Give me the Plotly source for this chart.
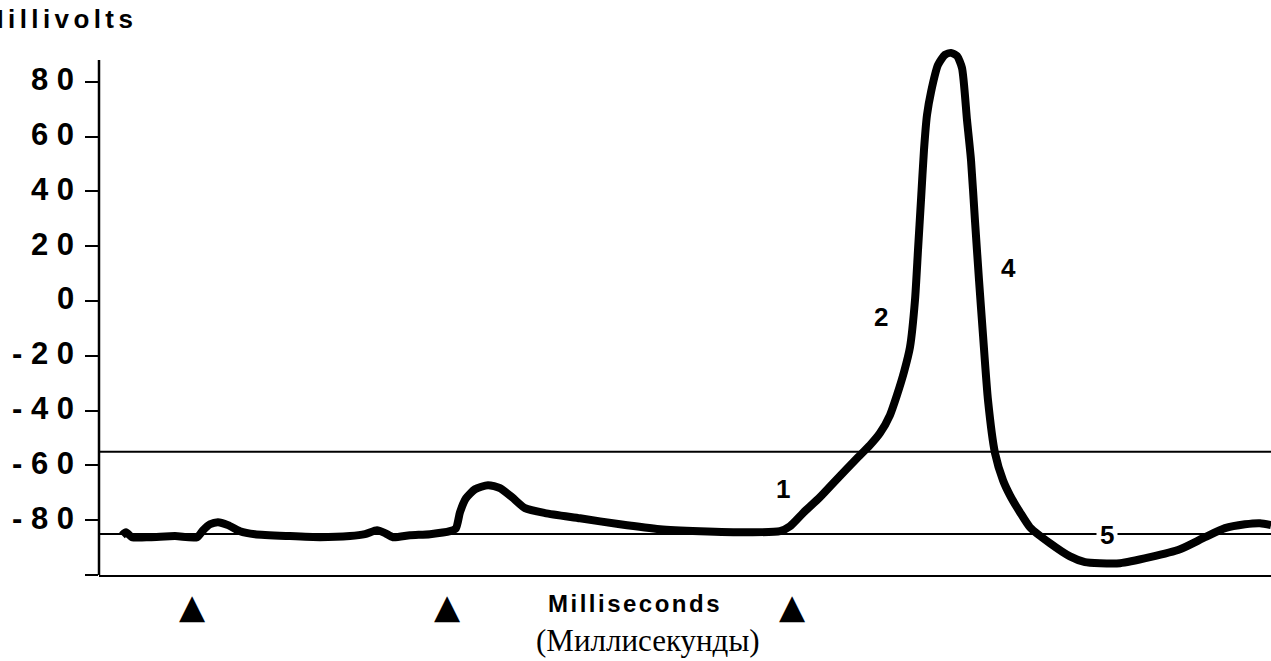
import plotly.graph_objects as go

# ---------------- data ----------------
time_ms = [23, 27, 33, 51, 76, 98, 104, 111, 119, 129, 141, 156, 191, 221, 251, 266,
           278, 286, 294, 311, 331, 351, 357, 361, 367, 376, 389, 401, 413, 426, 446,
           481, 521, 561, 601, 651, 681, 691, 704, 721, 736, 758, 771, 781, 791, 798,
           805, 811, 816, 819, 822, 825, 828, 832, 839, 846, 852, 858, 863, 868, 872,
           876, 880, 884, 889, 896, 904, 911, 921, 931, 951, 971, 986, 1001, 1021,
           1051, 1081, 1106, 1126, 1146, 1161, 1172]
voltage_mv = [-85.5, -84.4, -86.2, -86.2, -85.8, -86.2, -83.7, -81.5, -80.7, -81.8,
              -84.0, -85.1, -85.8, -86.2, -85.8, -85.1, -83.7, -84.7, -86.2, -85.5,
              -85.1, -84.0, -82.9, -77.1, -72.0, -68.7, -67.2, -68.3, -71.6, -75.6,
              -77.4, -79.3, -81.5, -83.3, -84.0, -84.4, -84.0, -82.2, -77.4, -71.6,
              -65.8, -57.4, -52.6, -48.2, -41.6, -34.3, -25.9, -16.8, 0.4, 18.6, 36.9,
              55.2, 67.9, 76.3, 86.2, 89.9, 90.6, 89.5, 85.1, 66.1, 51.5, 29.2, 7.7,
              -12.4, -36.2, -55.5, -65.4, -70.9, -77.1, -82.6, -88.4, -93.2, -95.3,
              -95.7, -95.7, -93.5, -90.6, -86.2, -82.9, -81.5, -81.1, -81.8]

threshold_mv = -55
resting_mv = -85

tick_values = [80, 60, 40, 20, 0, -20, -40, -60, -80]
tick_labels = ["8 0", "6 0", "4 0", "2 0", "0", "- 2 0", "- 4 0", "- 6 0", "- 8 0"]

stimulus_times = [93, 348, 693]

phase_labels = ["1", "2", "3", "4", "5"]
phase_times = [684, 782, 852, 909, 1008]
phase_mv = [-68.6, -5.8, 101.3, 12.1, -85.5]

y_title = "Millivolts"
x_title = "Milliseconds"
x_title_ru = "(Миллисекунды)"

# ---------------- geometry helpers ----------------
W, H = 1271, 661
L, R, T, B = 99, 0, 40, 86
Y_MIN, Y_MAX = -100, 95.3
X_MIN, X_MAX = 0, 1172
PW, PH = W - L - R, H - T - B


def px_x(px):
    return (px - L) / PW


def px_y(py):
    return (H - B - py) / PH


SANS = "Liberation Sans, Arial, sans-serif"
SERIF = "Liberation Serif, Times New Roman, serif"

fig = go.Figure()

fig.add_trace(go.Scatter(
    x=time_ms, y=voltage_mv, mode="lines",
    line=dict(color="black", width=8, shape="spline", smoothing=0.6),
    hoverinfo="skip", showlegend=False,
))

# threshold and resting lines
for v in (threshold_mv, resting_mv):
    fig.add_shape(type="line", xref="paper", yref="y", x0=0, x1=1, y0=v, y1=v,
                  line=dict(color="black", width=2), layer="below")

# y axis line (shorter than the plot area)
fig.add_shape(type="line", xref="paper", yref="paper", x0=0, x1=0,
              y0=0, y1=(88 - Y_MIN) / (Y_MAX - Y_MIN),
              line=dict(color="black", width=2.5))

annotations = []
for v, t in zip(tick_values, tick_labels):
    annotations.append(dict(
        x=px_x(76), xref="paper", y=v + 0.8, yref="y", xanchor="right", yanchor="middle",
        text=t, showarrow=False,
        font=dict(family=SANS, size=31, color="black", weight="bold"),
    ))

for lab, t, v in zip(phase_labels, phase_times, phase_mv):
    annotations.append(dict(
        x=t, xref="x", y=v, yref="y", xanchor="center", yanchor="middle",
        text=lab, showarrow=False,
        bgcolor="white" if lab == "5" else None,
        borderpad=3 if lab == "5" else 1,
        font=dict(family=SANS, size=22 if lab == "3" else 26, color="black", weight="bold"),
    ))

# stimulus markers below the axis
for t in stimulus_times:
    annotations.append(dict(
        x=t, xref="x", y=px_y(606), yref="paper", xanchor="center", yanchor="middle",
        text="▲", showarrow=False,
        font=dict(family="DejaVu Sans", size=34, color="black"),
    ))

annotations.append(dict(
    x=px_x(-20), xref="paper", y=px_y(19), yref="paper", xanchor="left", yanchor="middle",
    text='<span style="letter-spacing:4.4px">' + y_title + "</span>", showarrow=False,
    font=dict(family=SANS, size=26, color="black", weight="bold"),
))
annotations.append(dict(
    x=px_x(635), xref="paper", y=px_y(603), yref="paper", xanchor="center", yanchor="middle",
    text='<span style="letter-spacing:2.5px">' + x_title + "</span>", showarrow=False,
    font=dict(family=SANS, size=24, color="black", weight="bold"),
))
annotations.append(dict(
    x=px_x(648), xref="paper", y=px_y(640), yref="paper", xanchor="center", yanchor="middle",
    text=x_title_ru, showarrow=False,
    font=dict(family=SERIF, size=31, color="black"),
))

fig.update_layout(
    width=W, height=H,
    margin=dict(l=L, r=R, t=T, b=B, pad=0),
    paper_bgcolor="white", plot_bgcolor="white",
    showlegend=False,
    annotations=annotations,
    xaxis=dict(range=[X_MIN, X_MAX], showgrid=False, zeroline=False,
               showticklabels=False, ticks="", showline=True,
               linecolor="black", linewidth=2, fixedrange=True),
    yaxis=dict(range=[Y_MIN, Y_MAX], showgrid=False, zeroline=False,
               showline=False, showticklabels=False,
               tickmode="array", tickvals=tick_values + [-100],
               ticks="outside", ticklen=13, tickwidth=2, tickcolor="black",
               fixedrange=True),
)

fig.write_html("out.html", config={"displayModeBar": False},
               post_script="document.body.style.margin='0';document.body.style.overflow='hidden';")
